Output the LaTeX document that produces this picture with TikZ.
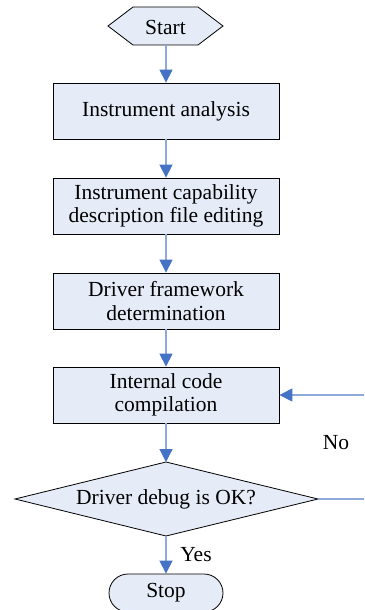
\documentclass[tikz,border=0pt]{standalone}
\usepackage{fontspec}
\setmainfont{Liberation Serif}
\usetikzlibrary{arrows.meta}
\definecolor{boxfill}{RGB}{230,236,247}
\definecolor{lineblue}{RGB}{142,170,219}
\definecolor{tipblue}{RGB}{68,114,196}
\tikzset{
  x=1pt, y=1pt,
  txt/.style={font=\fontsize{21.5}{23.5}\selectfont, align=center, inner sep=0pt},
  procbox/.style={draw=black, line width=0.8pt, fill=boxfill, minimum width=226pt, minimum height=56pt, txt},
  shapeline/.style={draw=black, line width=0.8pt, fill=boxfill},
  flow/.style={draw=lineblue, line width=1.2pt, -{Triangle[length=13pt, width=13pt, color=tipblue]}},
}
\begin{document}
\begin{tikzpicture}
\useasboundingbox (0,0) rectangle (364,-610);
\clip (0,0) rectangle (364,-610);
% Start hexagon
\draw[shapeline] (108,-26) -- (133,-7) -- (198,-7) -- (223,-26) -- (198,-45) -- (133,-45) -- cycle;
\node[txt] (start) at (165.5,-27) {Start};
\coordinate (startb) at (166,-45);
% process boxes
\node[procbox] (b1) at (166,-111) {Instrument analysis};
\node[procbox] (b2) at (166,-206) {Instrument capability\\description file editing};
\node[procbox] (b3) at (166,-301) {Driver framework\\determination};
\node[procbox] (b4) at (166,-395) {Internal code\\compilation};
% decision diamond
\draw[shapeline] (15,-499) -- (166,-462) -- (318,-499) -- (166,-536) -- cycle;
\node[txt] (dec) at (166,-499) {Driver debug is OK?};
\coordinate (dtop) at (166,-462);
\coordinate (dright) at (318,-499);
\coordinate (dbot) at (166,-536);
\coordinate (loopc) at (372,-499);
% Stop
\node[draw=black, line width=0.8pt, fill=boxfill, minimum width=114pt, minimum height=38pt, rounded corners=19pt, txt] (stop) at (166,-593) {Stop};
% connectors
\draw[flow] (startb) -- (b1.north);
\draw[flow] (b1.south) -- (b2.north);
\draw[flow] (b2.south) -- (b3.north);
\draw[flow] (b3.south) -- (b4.north);
\draw[flow] (b4.south) -- (dtop);
\draw[flow] (dbot) -- (stop.north);
\draw[flow] (dright) -- (loopc) |- (b4.east);
% labels
\node[txt] (yes) at (196,-555) {Yes};
\node[txt] (no) at (336,-443) {No};
\end{tikzpicture}
\end{document}
